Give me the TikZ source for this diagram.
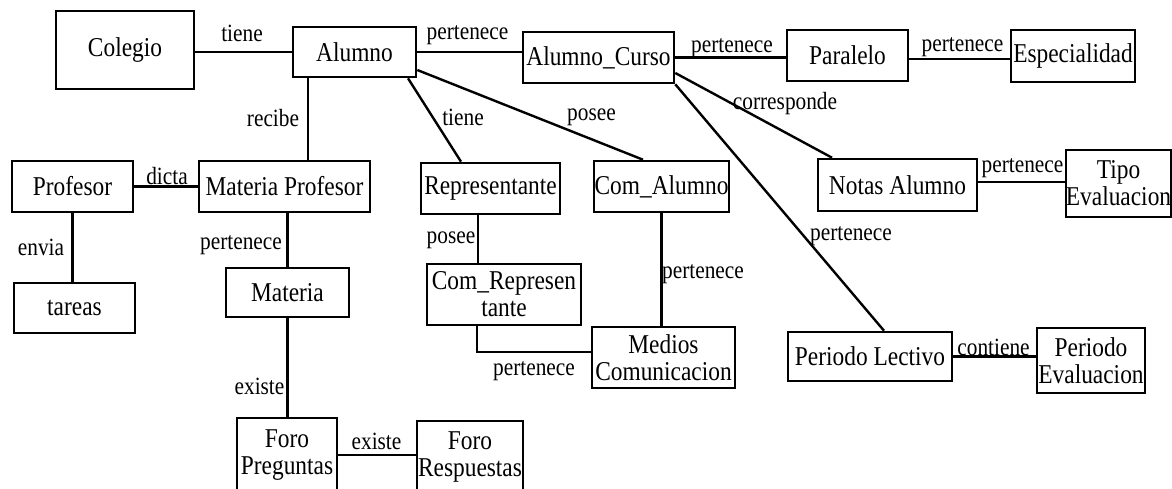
\documentclass[tikz,border=0pt]{standalone}
\usepackage{fontspec}
\setmainfont{Liberation Serif}[FakeStretch=0.86]
\begin{document}
\begin{tikzpicture}[x=0.5pt,y=-0.5pt,
  box/.style={draw, line width=1.3pt, rectangle, inner sep=0pt, align=center,
    font=\fontsize{13.6}{13.5}\selectfont},
  lbl/.style={inner sep=0pt, font=\fontsize{12.4}{14}\selectfont},
  conn/.style={line width=1.2pt}]
\useasboundingbox (0,0) rectangle (1172,488);
% entities
\node[box, minimum width=69pt, minimum height=39pt] (colegio) at (125,50) {Colegio};
\node[box, minimum width=61.5pt, minimum height=25pt] (alumno) at (354.5,52) {Alumno};
\node[box, minimum width=75.5pt, minimum height=25.5pt] (ac) at (598.5,57.5) {Alumno\_Curso};
\node[box, minimum width=60.5pt, minimum height=25.5pt] (par) at (847.5,55.5) {Paralelo};
\node[box, minimum width=62pt, minimum height=26pt] (esp) at (1073,56) {Especialidad};
\node[box, minimum width=60.5pt, minimum height=25.5pt] (prof) at (72.5,186.5) {Profesor};
\node[box, minimum width=85.5pt, minimum height=25.5pt] (mp) at (284.5,186.5) {Materia Profesor};
\node[box, minimum width=60.5pt, minimum height=25pt] (tareas) at (74.5,308) {tareas};
\node[box, minimum width=61.5pt, minimum height=24.5pt] (materia) at (287.5,292.5) {Materia};
\node[box, minimum width=50pt, minimum height=37pt] (fp) at (287,455) {Foro\\Preguntas};
\node[box, minimum width=53pt, minimum height=35.5pt] (fr) at (470,456.5) {Foro\\Respuestas};
\node[box, minimum width=69.5pt, minimum height=25.5pt] (rep) at (490.5,188.5) {Representante};
\node[box, minimum width=67.5pt, minimum height=25.5pt] (ca) at (661.5,186.5) {Com\_Alumno};
\node[box, minimum width=77pt, minimum height=30.5pt] (cr) at (504,294.5) {Com\_Represen\\tante};
\node[box, minimum width=71.5pt, minimum height=30.5pt] (med) at (663.5,357.5) {Medios\\Comunicacion};
\node[box, minimum width=79.5pt, minimum height=26pt] (na) at (897.5,185) {Notas Alumno};
\node[box, minimum width=51.5pt, minimum height=33.5pt] (te) at (1118.5,183.5) {Tipo\\Evaluacion};
\node[box, minimum width=82pt, minimum height=24.5pt] (pl) at (870,356.5) {Periodo Lectivo};
\node[box, minimum width=54pt, minimum height=32.5pt] (pe) at (1091,360.5) {Periodo\\Evaluacion};
% connectors
\draw[conn] (colegio.east |- alumno.west) -- (alumno.west);
\draw[conn] (alumno.east) -- (ac.west |- alumno.east);
\draw[conn] (ac.east) -- (par.west |- ac.east);
\draw[conn] ([yshift=-1.75pt]par.east) -- ([yshift=-1.5pt]esp.west);
\draw[conn] ([xshift=-23.25pt]alumno.south) -- ([xshift=11.75pt]mp.north);
\draw[conn] (prof.east) -- (mp.west);
\draw[conn] (prof.south) -- (prof.south |- tareas.north);
\draw[conn] (materia.north |- mp.south) -- (materia.north);
\draw[conn] (materia.south) -- (materia.south |- fp.north);
\draw[conn] (fp.east) -- (fr.west |- fp.east);
\draw[conn] ([xshift=26.75pt]alumno.south) -- ([xshift=-14.75pt]rep.north);
\draw[conn] ([yshift=-9pt]alumno.east) -- ([xshift=-9.25pt]ca.north);
\draw[conn] ([yshift=-7.75pt]ac.east) -- ([xshift=-32.75pt]na.north);
\draw[conn] (ac.south east) -- ([xshift=7pt]pl.north);
\draw[conn] ([yshift=1.5pt]na.east) -- ([yshift=1.5pt]na.east -| te.west);
\draw[conn] ([xshift=-6.25pt]rep.south) -- ([xshift=-13pt]cr.north);
\draw[conn] (ca.south) -- (ca.south |- med.north);
\draw[conn] ([xshift=-13.5pt]cr.south) |- ([yshift=2.75pt]med.west);
\draw[conn] (pl.east) -- (pe.west |- pl.east);
% labels
\node[lbl] (l1) at (242,33) {tiene};
\node[lbl] (l2) at (273,118) {recibe};
\node[lbl] (l3) at (467.5,35) {pertenece};
\node[lbl] (l4) at (463,117) {tiene};
\node[lbl] (l5) at (591.5,117) {posee};
\node[lbl] (l6) at (732,48) {pertenece};
\node[lbl] (l7) at (962.5,47) {pertenece};
\node[lbl] (l8) at (785,104) {corresponde};
\node[lbl] (l9) at (1022.5,168) {pertenece};
\node[lbl] (l10) at (167,176) {dicta};
\node[lbl] (l11) at (41,247) {envia};
\node[lbl] (l12) at (241,245) {pertenece};
\node[lbl] (l13) at (259.5,386) {existe};
\node[lbl] (l14) at (376.5,441) {existe};
\node[lbl] (l15) at (451,240) {posee};
\node[lbl] (l16) at (703,274) {pertenece};
\node[lbl] (l17) at (534,371) {pertenece};
\node[lbl] (l18) at (851,236) {pertenece};
\node[lbl] (l19) at (993.5,347) {contiene};
\end{tikzpicture}
\end{document}
